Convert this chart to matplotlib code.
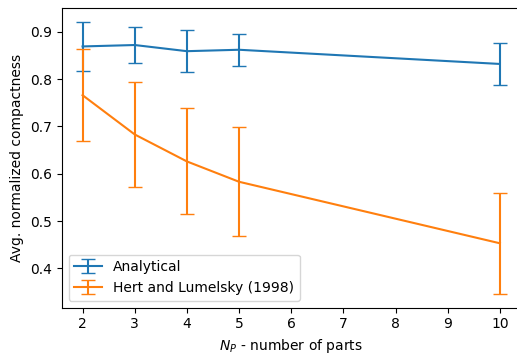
import matplotlib
matplotlib.use('Agg')
import matplotlib.pyplot as plt

# number of parts
n_parts = [2, 3, 4, 5, 10]

# Analytical
analytical_mean = [0.869, 0.872, 0.859, 0.862, 0.832]
analytical_err = [0.052, 0.038, 0.045, 0.034, 0.045]

# Hert and Lumelsky (1998)
hert_mean = [0.766, 0.683, 0.626, 0.583, 0.453]
hert_err = [0.097, 0.111, 0.112, 0.115, 0.107]

fig = plt.figure(figsize=(5.17, 3.58), dpi=100)
ax = fig.add_axes([0.1193, 0.141, 0.888, 0.836])

ax.errorbar(n_parts, analytical_mean, yerr=analytical_err, capsize=5,
            label='Analytical')
ax.errorbar(n_parts, hert_mean, yerr=hert_err, capsize=5,
            label='Hert and Lumelsky (1998)')

ax.set_xlabel(r'$N_P$ - number of parts')
ax.set_ylabel('Avg. normalized compactness')
ax.legend(loc='lower left')

fig.savefig('out.png', dpi=100)
